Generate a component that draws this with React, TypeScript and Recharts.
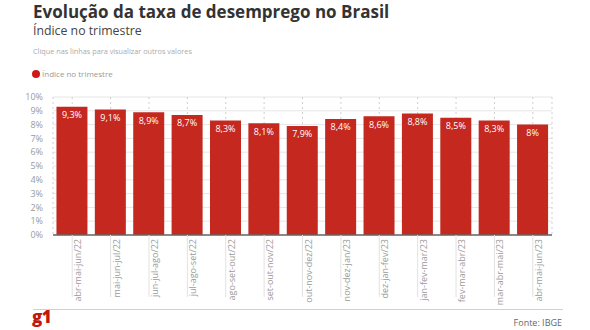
import React from "react";
import { BarChart, Bar, XAxis, YAxis, CartesianGrid, LabelList } from "recharts";

const categories = [
  "abr-mai-jun/22", "mai-jun-jul/22", "jun-jul-ago/22", "jul-ago-set/22",
  "ago-set-out/22", "set-out-nov/22", "out-nov-dez/22", "nov-dez-jan/23",
  "dez-jan-fev/23", "jan-fev-mar/23", "fev-mar-abr/23", "mar-abr-mai/23",
  "abr-mai-jun/23",
];
const values = [9.3, 9.1, 8.9, 8.7, 8.3, 8.1, 7.9, 8.4, 8.6, 8.8, 8.5, 8.3, 8.0];
const yTicks = [0, 1, 2, 3, 4, 5, 6, 7, 8, 9, 10];

const data = categories.map((c, i) => ({ name: c, value: values[i] }));

const FONT = "'Open Sans', sans-serif";
const RED = "#c4281f";

const fmt = (v: number) => String(v).replace(".", ",") + "%";

const XTick = (props: any) => {
  const { x, y, payload } = props;
  return (
    <g>
      <line x1={x} y1={235} x2={x} y2={297} stroke="#e2e2e2" strokeWidth={1} />
      <text
        x={0}
        y={0}
        transform={`translate(${x + 9},${y}) rotate(-90)`}
        textAnchor="end"
        fontSize={9}
        fill="#9a9a9a"
        fontFamily={FONT}
      >
        {payload.value}
      </text>
    </g>
  );
};

export default function App() {
  return (
    <div style={{ position: "absolute", left: 0, top: 0, width: 590, height: 330, background: "#fff", fontFamily: FONT, overflow: "hidden" }}>
      <div style={{ position: "absolute", left: 33, top: 2, fontSize: 17, fontWeight: 700, color: "#333", whiteSpace: "nowrap", lineHeight: "19px" }}>
        Evolução da taxa de desemprego no Brasil
      </div>
      <div style={{ position: "absolute", left: 33, top: 24, fontSize: 12.3, color: "#444", whiteSpace: "nowrap", lineHeight: "14px" }}>
        Índice no trimestre
      </div>
      <div style={{ position: "absolute", left: 33, top: 46, fontSize: 7.3, color: "#aaa", whiteSpace: "nowrap", lineHeight: "11px" }}>
        Clique nas linhas para visualizar outros valores
      </div>
      <div style={{ position: "absolute", left: 32, top: 70, width: 8, height: 8, borderRadius: 4, background: "#d01818" }} />
      <div style={{ position: "absolute", left: 42, top: 68, fontSize: 8, color: "#999", whiteSpace: "nowrap", lineHeight: "12px" }}>
        Índice no trimestre
      </div>
      <div style={{ position: "absolute", left: 0, top: 0 }}>
        <BarChart
          width={590}
          height={330}
          data={data}
          margin={{ top: 97, right: 38, bottom: 0, left: 0 }}
          barCategoryGap="9%"
        >
          <CartesianGrid vertical={false} stroke="#e6e6e6" strokeWidth={1} />
          <CartesianGrid horizontal={false} stroke="#cfcfcf" strokeDasharray="2 3" />
          <YAxis
            width={53}
            domain={[0, 10]}
            ticks={yTicks}
            interval={0}
            axisLine={false}
            tickLine={false}
            tickFormatter={(v: number) => v + "%"}
            tick={{ fontSize: 9, fill: "#9a9a9a", fontFamily: FONT }}
            tickMargin={4}
          />
          <XAxis
            dataKey="name"
            height={95}
            interval={0}
            axisLine={{ stroke: "#666", strokeWidth: 1.5 }}
            tickLine={false}
            tickSize={0}
            tickMargin={4}
            tick={<XTick />}
          />
          <Bar dataKey="value" fill={RED} isAnimationActive={false}>
            <LabelList
              dataKey="value"
              position="insideTop"
              offset={5}
              formatter={(v: any) => fmt(Number(v))}
              fill="#fff"
              fontSize={9}
              fontFamily={FONT}
            />
          </Bar>
        </BarChart>
      </div>
      <div style={{ position: "absolute", left: 33, top: 309, width: 530, height: 1, background: "#d0d0d0" }} />
      <div style={{ position: "absolute", left: 32, top: 307, fontSize: 17, fontWeight: 800, color: "#c4170c", lineHeight: "20px", letterSpacing: -0.5 }}>
        g1
      </div>
      <div style={{ position: "absolute", right: 28, top: 316, fontSize: 9, color: "#666", whiteSpace: "nowrap", lineHeight: "13px" }}>
        Fonte: IBGE
      </div>
    </div>
  );
}
